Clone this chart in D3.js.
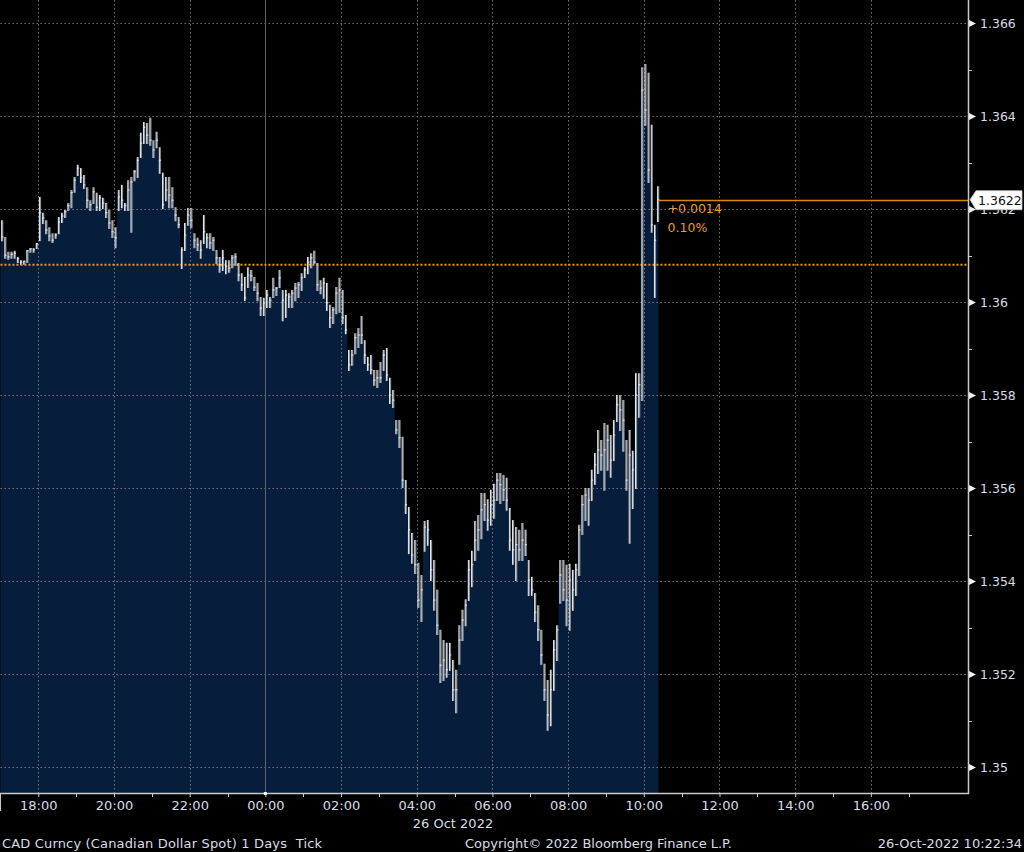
<!DOCTYPE html>
<html><head><meta charset="utf-8">
<script src="https://cdn.jsdelivr.net/npm/d3@7"></script>
<style>
html,body{margin:0;padding:0;background:#000;}
svg{display:block;}
text{font-family:"DejaVu Sans",Verdana,sans-serif;white-space:pre;}
</style></head>
<body>
<svg id="chart" width="1024" height="852"></svg>
<script>
// ---------------- DATA ----------------
const startTime = new Date(2022, 9, 25, 17, 0, 0);   // first 5-minute bar
const barMinutes = 5;
const prevClose = 1.3608;
const lastPrice = 1.3622;
const changeLabel = "+0.0014";
const changePctLabel = "0.10%";

const high = [
1.36176,1.36140,1.36108,1.36108,1.36110,1.36097,1.36090,1.36088,1.36112,1.36116,
1.36116,1.36127,1.36226,1.36192,1.36176,1.36161,1.36148,1.36148,1.36183,1.36192,
1.36198,1.36213,1.36241,1.36269,1.36295,1.36288,1.36273,1.36247,1.36219,1.36247,
1.36235,1.36230,1.36224,1.36213,1.36198,1.36176,1.36161,1.36241,1.36252,1.36213,
1.36262,1.36269,1.36284,1.36312,1.36364,1.36387,1.36385,1.36396,1.36348,1.36366,
1.36333,1.36278,1.36269,1.36269,1.36247,1.36204,1.36183,1.36118,1.36170,1.36202,
1.36202,1.36148,1.36138,1.36133,1.36187,1.36148,1.36148,1.36140,1.36112,1.36097,
1.36112,1.36090,1.36090,1.36101,1.36105,1.36084,1.36062,1.36054,1.36075,1.36069,
1.36054,1.36041,1.36011,1.36009,1.36026,1.36011,1.36052,1.36032,1.36069,1.36026,
1.36026,1.36019,1.36026,1.36041,1.36043,1.36062,1.36075,1.36097,1.36105,1.36110,
1.36084,1.36047,1.36052,1.36041,1.35994,1.35989,1.36032,1.36052,1.36026,1.35972,
1.35897,1.35897,1.35933,1.35944,1.35970,1.35918,1.35882,1.35886,1.35854,1.35854,
1.35871,1.35897,1.35901,1.35837,1.35811,1.35746,1.35746,1.35710,1.35617,1.35559,
1.35503,1.35488,1.35439,1.35413,1.35529,1.35531,1.35488,1.35445,1.35381,1.35295,
1.35273,1.35267,1.35267,1.35230,1.35209,1.35305,1.35338,1.35361,1.35445,1.35465,
1.35529,1.35542,1.35589,1.35589,1.35576,1.35596,1.35609,1.35632,1.35632,1.35628,
1.35622,1.35557,1.35531,1.35516,1.35510,1.35525,1.35510,1.35445,1.35409,1.35374,
1.35348,1.35295,1.35222,1.35187,1.35209,1.35273,1.35305,1.35445,1.35445,1.35435,
1.35437,1.35424,1.35437,1.35521,1.35585,1.35600,1.35600,1.35639,1.35675,1.35725,
1.35703,1.35740,1.35736,1.35714,1.35746,1.35800,1.35800,1.35789,1.35703,1.35725,
1.35680,1.35847,1.35847,1.36505,1.36512,1.36493,1.36381,1.36166,1.36249
];
const low = [
1.36133,1.36095,1.36093,1.36095,1.36095,1.36086,1.36082,1.36082,1.36086,1.36108,
1.36108,1.36116,1.36133,1.36170,1.36148,1.36133,1.36129,1.36138,1.36148,1.36172,
1.36183,1.36198,1.36204,1.36237,1.36273,1.36258,1.36245,1.36204,1.36198,1.36213,
1.36198,1.36198,1.36202,1.36183,1.36159,1.36140,1.36118,1.36198,1.36204,1.36198,
1.36198,1.36151,1.36262,1.36269,1.36312,1.36342,1.36342,1.36338,1.36312,1.36333,
1.36278,1.36202,1.36219,1.36204,1.36204,1.36176,1.36161,1.36073,1.36112,1.36166,
1.36161,1.36118,1.36112,1.36095,1.36127,1.36118,1.36116,1.36112,1.36084,1.36065,
1.36069,1.36062,1.36065,1.36075,1.36080,1.36047,1.36026,1.36004,1.36032,1.36047,
1.36026,1.36004,1.35972,1.35972,1.35989,1.35989,1.36011,1.36015,1.36032,1.35961,
1.35968,1.35989,1.35989,1.36004,1.36011,1.36026,1.36054,1.36062,1.36075,1.36084,
1.36026,1.36019,1.36009,1.35983,1.35946,1.35955,1.35976,1.35979,1.35955,1.35933,
1.35854,1.35865,1.35890,1.35903,1.35912,1.35869,1.35854,1.35847,1.35822,1.35817,
1.35828,1.35854,1.35832,1.35783,1.35774,1.35718,1.35688,1.35602,1.35546,1.35460,
1.35439,1.35417,1.35344,1.35314,1.35465,1.35478,1.35402,1.35338,1.35286,1.35183,
1.35187,1.35194,1.35209,1.35144,1.35118,1.35222,1.35273,1.35305,1.35359,1.35389,
1.35445,1.35467,1.35492,1.35531,1.35510,1.35521,1.35536,1.35574,1.35568,1.35574,
1.35553,1.35467,1.35437,1.35402,1.35445,1.35445,1.35456,1.35370,1.35370,1.35314,
1.35273,1.35222,1.35144,1.35080,1.35090,1.35166,1.35230,1.35353,1.35359,1.35305,
1.35295,1.35338,1.35370,1.35413,1.35501,1.35531,1.35521,1.35574,1.35609,1.35632,
1.35639,1.35596,1.35639,1.35624,1.35660,1.35744,1.35725,1.35680,1.35596,1.35482,
1.35557,1.35600,1.35753,1.35789,1.36381,1.36258,1.36151,1.36011,1.36174
];
const close = [
1.36140,1.36101,1.36097,1.36103,1.36105,1.36093,1.36086,1.36088,1.36110,1.36114,
1.36112,1.36125,1.36192,1.36181,1.36155,1.36142,1.36133,1.36144,1.36172,1.36185,
1.36194,1.36207,1.36235,1.36262,1.36288,1.36267,1.36252,1.36219,1.36209,1.36237,
1.36204,1.36224,1.36213,1.36192,1.36170,1.36151,1.36138,1.36226,1.36219,1.36207,
1.36241,1.36258,1.36280,1.36305,1.36342,1.36376,1.36359,1.36348,1.36327,1.36348,
1.36305,1.36209,1.36241,1.36230,1.36219,1.36187,1.36166,1.36112,1.36144,1.36187,
1.36176,1.36133,1.36123,1.36112,1.36151,1.36138,1.36127,1.36133,1.36095,1.36080,
1.36095,1.36077,1.36073,1.36095,1.36097,1.36058,1.36037,1.36009,1.36058,1.36056,
1.36032,1.36019,1.35987,1.35998,1.36015,1.36004,1.36026,1.36030,1.36052,1.36004,
1.36015,1.36011,1.36019,1.36030,1.36037,1.36052,1.36069,1.36086,1.36095,1.36086,
1.36037,1.36030,1.36041,1.35998,1.35966,1.35983,1.36019,1.36026,1.35966,1.35940,
1.35865,1.35886,1.35923,1.35929,1.35929,1.35886,1.35865,1.35854,1.35832,1.35837,
1.35837,1.35886,1.35843,1.35800,1.35789,1.35725,1.35708,1.35617,1.35564,1.35510,
1.35456,1.35435,1.35359,1.35381,1.35516,1.35510,1.35424,1.35359,1.35305,1.35219,
1.35230,1.35209,1.35241,1.35166,1.35166,1.35273,1.35316,1.35348,1.35424,1.35435,
1.35488,1.35510,1.35553,1.35564,1.35531,1.35564,1.35574,1.35617,1.35607,1.35596,
1.35574,1.35488,1.35467,1.35478,1.35467,1.35488,1.35478,1.35402,1.35381,1.35333,
1.35295,1.35241,1.35166,1.35112,1.35166,1.35252,1.35295,1.35413,1.35381,1.35359,
1.35402,1.35381,1.35424,1.35510,1.35564,1.35585,1.35574,1.35617,1.35650,1.35682,
1.35671,1.35682,1.35703,1.35660,1.35714,1.35779,1.35768,1.35746,1.35617,1.35671,
1.35639,1.35800,1.35822,1.36456,1.36413,1.36284,1.36166,1.36133,1.36220
];

const yTickValues = [1.35,1.352,1.354,1.356,1.358,1.36,1.362,1.364,1.366];
const yTickLabels = ["1.35","1.352","1.354","1.356","1.358","1.36","1.362","1.364","1.366"];
const yMinorValues = [1.351,1.353,1.355,1.357,1.359,1.361,1.363,1.365];
const xTickLabels = ["18:00","20:00","22:00","00:00","02:00","04:00","06:00","08:00","10:00","12:00","14:00","16:00"];
const dateLabel = "26 Oct 2022";
const footerLeft = "CAD Curncy (Canadian Dollar Spot) 1 Days  Tick";
const footerMid = "Copyright\u00A9 2022 Bloomberg Finance L.P.";
const footerRight = "26-Oct-2022 10:22:34";

// ---------------- LAYOUT ----------------
const W = 1024, H = 852;
const plotLeft = 0.45, plotRight = 968, plotTop = 0, plotBottom = 793;
const FS = 13;

const svg = d3.select("#chart");
svg.append("rect").attr("width", W).attr("height", H).attr("fill", "#000");

const x = d3.scaleTime()
  .domain([startTime, new Date(2022, 9, 26, 18, 34, 0)])
  .range([plotLeft, plotRight]);
const y = d3.scaleLinear().domain([1.35, 1.366]).range([767, 23]);

const bars = high.map((h, i) => ({
  t: new Date(startTime.getTime() + i * barMinutes * 60000),
  hi: h, lo: low[i], c: close[i]
}));
const barEnd = d => new Date(d.t.getTime() + barMinutes * 60000);

// ---------------- AREA FILL ----------------
const areaPts = bars.map(d => ({t: d.t, c: d.c}));
const lastBar = bars[bars.length - 1];
areaPts.push({t: new Date(lastBar.t.getTime() + 3 * 60000), c: lastBar.c});
const area = d3.area()
  .curve(d3.curveStepAfter)
  .x(d => x(d.t))
  .y0(plotBottom)
  .y1(d => y(d.c));
svg.append("path").datum(areaPts).attr("d", area).attr("fill", "#061e3c");

// ---------------- GRID ----------------
const grid = svg.append("g");
grid.selectAll("line.h").data(yTickValues).join("line")
  .attr("x1", plotLeft).attr("x2", plotRight)
  .attr("y1", d => Math.round(y(d)) + 0.5).attr("y2", d => Math.round(y(d)) + 0.5)
  .attr("stroke", "#909090").attr("stroke-opacity", 0.8)
  .attr("stroke-width", 1).attr("stroke-dasharray", "1.5,2.5");

const hourTicks = xTickLabels.map((lab, i) => new Date(2022, 9, 25, 18 + 2 * i, 0, 0));
grid.selectAll("line.v").data(hourTicks).join("line")
  .attr("x1", d => Math.round(x(d)) + 0.5).attr("x2", d => Math.round(x(d)) + 0.5)
  .attr("y1", plotTop).attr("y2", plotBottom)
  .attr("stroke", d => d.getHours() === 0 ? "#666e78" : "#909090")
  .attr("stroke-opacity", d => d.getHours() === 0 ? 0.9 : 0.8)
  .attr("stroke-width", 1)
  .attr("stroke-dasharray", d => d.getHours() === 0 ? null : "1.5,2.5");

// previous close dotted orange
svg.append("line")
  .attr("x1", plotLeft).attr("x2", plotRight)
  .attr("y1", y(prevClose)).attr("y2", y(prevClose))
  .attr("stroke", "#f09a12").attr("stroke-width", 2).attr("stroke-dasharray", "2,2");

// ---------------- BARS ----------------
const gb = svg.append("g");
gb.selectAll("line.g").data(bars).join("line")
  .attr("x1", d => x(d.t) + 2.2).attr("x2", d => x(d.t) + 2.2)
  .attr("y1", d => y(d.hi)).attr("y2", d => y(d.lo) + 1)
  .attr("stroke", "#8e8e8e").attr("stroke-width", 1.2);
gb.selectAll("line.w").data(bars).join("line")
  .attr("x1", d => x(d.t) + 1.2).attr("x2", d => x(d.t) + 1.2)
  .attr("y1", d => y(d.hi)).attr("y2", d => y(d.lo) + 1)
  .attr("stroke", "#dce4ee").attr("stroke-width", 1.1);
gb.selectAll("line.c").data(bars).join("line")
  .attr("x1", d => x(d.t) + 0.8).attr("x2", d => x(barEnd(d)) - 0.2)
  .attr("y1", d => y(d.c)).attr("y2", d => y(d.c))
  .attr("stroke", "#e8eef5").attr("stroke-width", 1);

// last price orange line
svg.append("line")
  .attr("x1", x(barEnd(lastBar)) - 1).attr("x2", plotRight)
  .attr("y1", Math.round(y(lastPrice)) + 0.5).attr("y2", Math.round(y(lastPrice)) + 0.5)
  .attr("stroke", "#d8870e").attr("stroke-width", 1.3);

svg.append("text").attr("x", x(barEnd(lastBar)) + 8).attr("y", y(lastPrice) + 13)
  .attr("fill", "#e99a2c").attr("font-size", 12.5).text(changeLabel);
svg.append("text").attr("x", x(barEnd(lastBar)) + 8).attr("y", y(lastPrice) + 32)
  .attr("fill", "#e99a2c").attr("font-size", 12.5).text(changePctLabel);

// ---------------- AXES ----------------
const axisColor = "#c9c9c9";
const textColor = "#d6dde6";

// right axis
const yAxis = d3.axisRight(y).tickValues(yTickValues)
  .tickFormat((d, i) => yTickLabels[i]).tickSize(0).tickPadding(12);
const gy = svg.append("g").attr("transform", `translate(${plotRight},0)`).call(yAxis);
gy.select(".domain").remove();
gy.selectAll("text").attr("fill", textColor).attr("font-size", 12.5)
  .attr("font-family", "DejaVu Sans, Verdana, sans-serif");
gy.selectAll(".tick").append("path").attr("d", "M1,-3.5L8,0L1,3.5Z").attr("fill", "#f2f2f2");
svg.selectAll("line.ym").data(yMinorValues).join("line")
  .attr("x1", plotRight).attr("x2", plotRight + 4)
  .attr("y1", d => Math.round(y(d)) + 0.5).attr("y2", d => Math.round(y(d)) + 0.5)
  .attr("stroke", axisColor).attr("stroke-width", 1);
svg.append("line").attr("x1", plotRight + 0.5).attr("x2", plotRight + 0.5)
  .attr("y1", plotTop).attr("y2", plotBottom + 1)
  .attr("stroke", axisColor).attr("stroke-width", 1.5);

// bottom axis
svg.append("line").attr("x1", 0).attr("x2", plotRight + 1)
  .attr("y1", plotBottom + 0.5).attr("y2", plotBottom + 0.5)
  .attr("stroke", axisColor).attr("stroke-width", 1.5);
svg.append("line").attr("x1", 0.5).attr("x2", 0.5)
  .attr("y1", plotBottom).attr("y2", plotBottom + 18)
  .attr("stroke", axisColor).attr("stroke-width", 1);

const xAxis = d3.axisBottom(x)
  .tickValues(hourTicks)
  .tickFormat((d, i) => xTickLabels[i])
  .tickSize(4).tickPadding(4);
const gx = svg.append("g").attr("transform", `translate(0,${plotBottom})`).call(xAxis);
gx.select(".domain").remove();
gx.selectAll("line").attr("stroke", axisColor);
gx.selectAll("text").attr("fill", textColor).attr("font-size", FS)
  .attr("font-family", "DejaVu Sans, Verdana, sans-serif");
// odd-hour minor ticks
const oddHours = xTickLabels.map((lab, i) => new Date(2022, 9, 25, 19 + 2 * i, 0, 0));
svg.selectAll("line.xm").data(oddHours).join("line")
  .attr("x1", d => Math.round(x(d)) + 0.5).attr("x2", d => Math.round(x(d)) + 0.5)
  .attr("y1", plotBottom).attr("y2", plotBottom + 4)
  .attr("stroke", axisColor);
// day-boundary marker
svg.append("rect").attr("x", x(hourTicks[3]) - 1.5).attr("y", plotBottom - 1)
  .attr("width", 3).attr("height", 3).attr("fill", "#fff");

svg.append("text").attr("x", 453).attr("y", 828).attr("text-anchor", "middle")
  .attr("fill", textColor).attr("font-size", FS).text(dateLabel);

// footer
svg.append("text").attr("x", 2).attr("y", 848).attr("fill", textColor).attr("font-size", FS)
  .attr("textLength", 320).attr("lengthAdjust", "spacing").text(footerLeft);
svg.append("text").attr("x", 465).attr("y", 848).attr("fill", textColor).attr("font-size", FS)
  .attr("textLength", 267).attr("lengthAdjust", "spacing").text(footerMid);
svg.append("text").attr("x", 1022).attr("y", 848).attr("text-anchor", "end").attr("fill", textColor).attr("font-size", FS).text(footerRight);

// last price label box
const ly = y(lastPrice);
svg.append("path")
  .attr("d", `M${plotRight + 2},${ly} L${plotRight + 8},${ly - 9} L1022,${ly - 9} L1022,${ly + 10} L${plotRight + 8},${ly + 10} Z`)
  .attr("fill", "#ffffff").attr("stroke", "#bfbfbf").attr("stroke-width", 0.8);
svg.append("text").attr("x", plotRight + 10).attr("y", ly + 5)
  .attr("fill", "#111").attr("font-size", 12.5).text(d3.format(".4f")(lastPrice));
</script>
</body></html>
